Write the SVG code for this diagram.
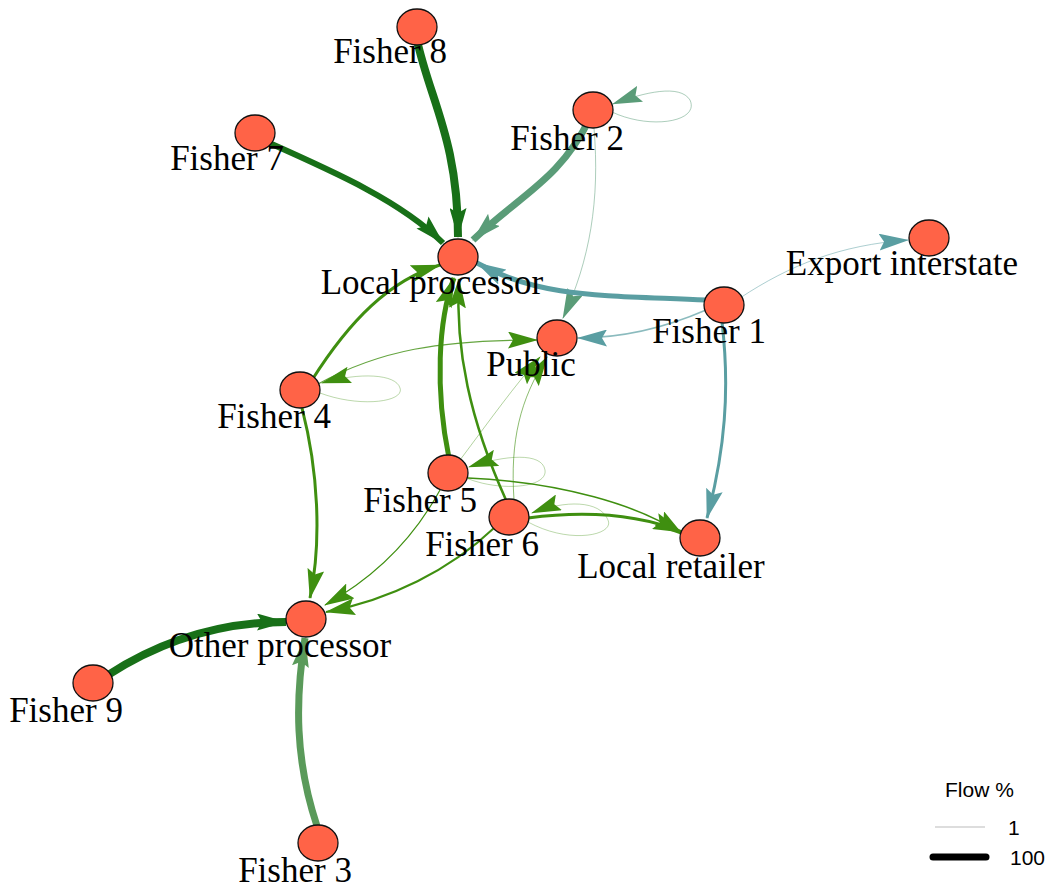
<svg xmlns="http://www.w3.org/2000/svg" width="1061" height="890" viewBox="0 0 1061 890">
<style>
.node ellipse{fill:#FF6347;stroke:#111;stroke-width:1.3}
.lbl{font-family:"Liberation Serif","Times New Roman",serif;font-size:35px;fill:#000;text-anchor:middle}
.e{fill:none;stroke-linecap:butt}
.dk{stroke:#187018}
.f2{stroke:#5a9c78}
.f1{stroke:#5a9ea2}
.g{stroke:#3f8f10}
.f3{stroke:#5a9a5a}
.leg{font-family:"Liberation Sans",Arial,sans-serif;font-size:21px;fill:#000}
</style>
<defs>
<marker id="mdk" viewBox="0 0 30 17" refX="29" refY="8.5" markerWidth="30" markerHeight="17" markerUnits="userSpaceOnUse" orient="auto"><path d="M0,0 L30,8.5 L0,17 L5,8.5 Z" fill="#187018"/></marker>
<marker id="mf2" viewBox="0 0 30 17" refX="29" refY="8.5" markerWidth="30" markerHeight="17" markerUnits="userSpaceOnUse" orient="auto"><path d="M0,0 L30,8.5 L0,17 L5,8.5 Z" fill="#5a9c78"/></marker>
<marker id="mf1" viewBox="0 0 30 17" refX="29" refY="8.5" markerWidth="30" markerHeight="17" markerUnits="userSpaceOnUse" orient="auto"><path d="M0,0 L30,8.5 L0,17 L5,8.5 Z" fill="#5a9ea2"/></marker>
<marker id="mg" viewBox="0 0 30 17" refX="29" refY="8.5" markerWidth="30" markerHeight="17" markerUnits="userSpaceOnUse" orient="auto"><path d="M0,0 L30,8.5 L0,17 L5,8.5 Z" fill="#3f8f10"/></marker>
<marker id="mf3" viewBox="0 0 30 17" refX="29" refY="8.5" markerWidth="30" markerHeight="17" markerUnits="userSpaceOnUse" orient="auto"><path d="M0,0 L30,8.5 L0,17 L5,8.5 Z" fill="#5a9a5a"/></marker>
</defs>
<g id="connectors">
<path class="e dk" stroke-width="8" marker-end="url(#mdk)" d="M417,40 C430,100 458,140 458,237"/>
<path class="e dk" stroke-width="6" stroke="#237a1a" marker-end="url(#mdk)" d="M258,138 C330,170 400,200 443,243"/>
<path class="e f2" stroke-width="7" marker-end="url(#mf2)" d="M590,118 C560,180 520,195 473,240"/>
<path class="e f2" stroke-width="1" stroke-opacity="0.5" marker-end="url(#mf2)" d="M594,128 C600,200 590,260 563,318"/>
<path class="e f2" stroke-width="1" stroke-opacity="0.5" marker-end="url(#mf2)" d="M612,112 C650,130 700,122 690,100 C680,84 645,92 613,104"/>
<path class="e f1" stroke-width="5" marker-end="url(#mf1)" d="M706,300 C600,295 540,298 477,263"/>
<path class="e f1" stroke-width="1.5" stroke-opacity="0.7" marker-end="url(#mf1)" d="M706,310 C660,330 620,338 578,338"/>
<path class="e f1" stroke-width="1" stroke-opacity="0.5" marker-end="url(#mf1)" d="M740,298 C790,265 840,245 908,240"/>
<path class="e f1" stroke-width="3" marker-end="url(#mf1)" d="M722,322 C730,390 725,450 707,518"/>
<path class="e g" stroke-width="3" stroke="#4a9a20" marker-end="url(#mg)" d="M312,380 C350,320 390,280 440,265"/>
<path class="e g" stroke-width="1.2" stroke-opacity="0.8" marker-end="url(#mg)" d="M318,384 C380,350 440,340 537,340"/>
<path class="e g" stroke-width="1" stroke-opacity="0.35" marker-end="url(#mg)" d="M320,393 C360,408 405,402 400,388 C396,374 360,372 322,383"/>
<path class="e g" stroke-width="3" stroke="#4a9a20" marker-end="url(#mg)" d="M302,408 C318,470 322,540 310,598"/>
<path class="e g" stroke-width="5" stroke="#4a9318" marker-end="url(#mg)" d="M449,458 C435,390 438,320 454,278"/>
<path class="e g" stroke-width="1" stroke-opacity="0.4" marker-end="url(#mg)" d="M460,460 C490,420 515,385 540,357"/>
<path class="e g" stroke-width="1" stroke-opacity="0.35" marker-end="url(#mg)" d="M466,478 C500,492 548,488 545,470 C542,452 505,455 469,467"/>
<path class="e g" stroke-width="1.5" marker-end="url(#mg)" d="M468,478 C560,482 640,505 683,535"/>
<path class="e g" stroke-width="1.2" marker-end="url(#mg)" d="M440,490 C410,545 370,580 325,605"/>
<path class="e g" stroke-width="2.5" marker-end="url(#mg)" d="M506,500 C470,420 455,350 459,279"/>
<path class="e g" stroke-width="1" stroke-opacity="0.6" marker-end="url(#mg)" d="M514,500 C510,440 520,400 547,357"/>
<path class="e g" stroke-width="1" stroke-opacity="0.35" marker-end="url(#mg)" d="M528,522 C570,545 615,535 608,520 C600,500 565,500 532,513"/>
<path class="e g" stroke-width="3" marker-end="url(#mg)" d="M528,518 C590,510 640,515 682,532"/>
<path class="e g" stroke-width="2" marker-end="url(#mg)" d="M494,528 C450,570 390,600 326,612"/>
<path class="e dk" stroke-width="8" stroke="#0e6b0e" marker-end="url(#mdk)" d="M108,675 C170,635 230,622 286,622"/>
<path class="e f3" stroke-width="7" marker-end="url(#mf3)" d="M317,826 C295,760 295,700 305,638"/>
</g>
<g id="n-fisher8" class="node"><ellipse cx="417" cy="27" rx="20" ry="18"/><text class="lbl" x="390" y="63">Fisher 8</text></g>
<g id="n-fisher2" class="node"><ellipse cx="593" cy="110" rx="20" ry="18"/><text class="lbl" x="567" y="150">Fisher 2</text></g>
<g id="n-fisher7" class="node"><ellipse cx="255" cy="133" rx="20" ry="18"/><text class="lbl" x="227" y="170">Fisher 7</text></g>
<g id="n-localproc" class="node"><ellipse cx="458" cy="257" rx="20" ry="18"/><text class="lbl" x="432" y="294">Local processor</text></g>
<g id="n-export" class="node"><ellipse cx="929" cy="238" rx="20" ry="18"/><text class="lbl" x="902" y="275">Export interstate</text></g>
<g id="n-fisher1" class="node"><ellipse cx="724" cy="305" rx="20" ry="18"/><text class="lbl" x="709" y="343">Fisher 1</text></g>
<g id="n-public" class="node"><ellipse cx="557" cy="338" rx="20" ry="18"/><text class="lbl" x="531" y="376">Public</text></g>
<g id="n-fisher4" class="node"><ellipse cx="300" cy="390" rx="20" ry="18"/><text class="lbl" x="274" y="428">Fisher 4</text></g>
<g id="n-fisher5" class="node"><ellipse cx="448" cy="473" rx="20" ry="18"/><text class="lbl" x="420" y="512">Fisher 5</text></g>
<g id="n-fisher6" class="node"><ellipse cx="509" cy="517" rx="20" ry="18"/><text class="lbl" x="482" y="556">Fisher 6</text></g>
<g id="n-retailer" class="node"><ellipse cx="700" cy="538" rx="20" ry="18"/><text class="lbl" x="671" y="578">Local retailer</text></g>
<g id="n-otherproc" class="node"><ellipse cx="306" cy="619" rx="20" ry="18"/><text class="lbl" x="280" y="657">Other processor</text></g>
<g id="n-fisher9" class="node"><ellipse cx="93" cy="683" rx="20" ry="18"/><text class="lbl" x="66" y="722">Fisher 9</text></g>
<g id="n-fisher3" class="node"><ellipse cx="318" cy="843" rx="20" ry="18"/><text class="lbl" x="295" y="882">Fisher 3</text></g>
<g id="legend">
<text class="leg" x="945" y="797">Flow %</text>
<line x1="935" y1="827" x2="985" y2="827" stroke="#bbbbbb" stroke-width="1.2"/>
<text class="leg" x="1008" y="835">1</text>
<line x1="933" y1="857" x2="986" y2="857" stroke="#000" stroke-width="7" stroke-linecap="round"/>
<text class="leg" x="1010" y="865">100</text>
</g>
</svg>
